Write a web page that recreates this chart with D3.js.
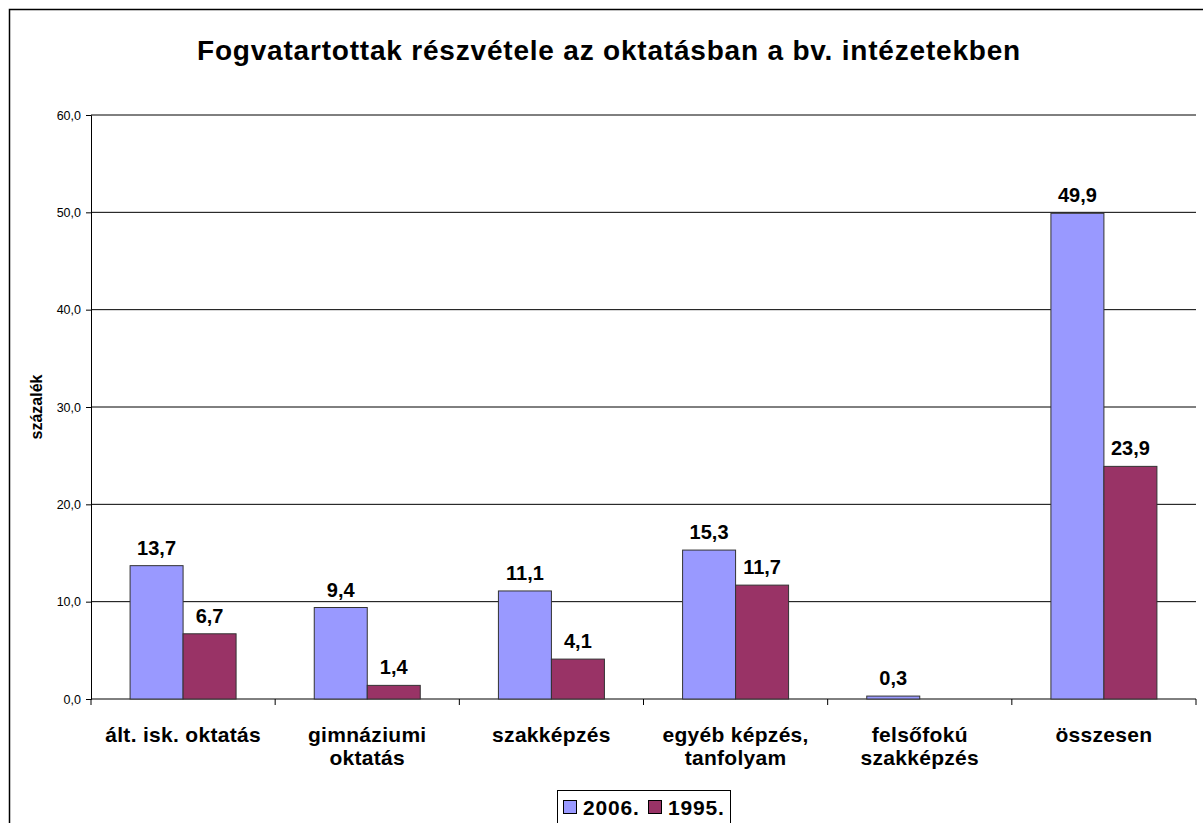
<!DOCTYPE html>
<html><head><meta charset="utf-8">
<script src="https://cdn.jsdelivr.net/npm/d3@7"></script>
<style>body{margin:0;background:#fff}svg{display:block;font-family:"Liberation Sans",Arial,sans-serif}</style>
</head><body>
<svg id="c" width="1203" height="823"></svg>
<script>
const categories = [["ált. isk. oktatás"],["gimnáziumi","oktatás"],["szakképzés"],["egyéb képzés,","tanfolyam"],["felsőfokú","szakképzés"],["összesen"]];
const series2006 = [13.7, 9.4, 11.1, 15.3, 0.3, 49.9];
const series1995 = [6.7, 1.4, 4.1, 11.7, null, 23.9];
const seriesNames = ["2006.", "1995."];
const yTicks = [0, 10, 20, 30, 40, 50, 60];
const colors = ["#9999FF", "#993366"];

const FF = '"Liberation Sans",Arial,sans-serif';
const svg = d3.select("#c");
const L = 91, R = 1196, T = 115, B = 699;
svg.append("rect").attr("x",9.5).attr("y",9.5).attr("width",1203).attr("height",830)
  .attr("fill","none").attr("stroke","#000").attr("stroke-width",1.5);

svg.append("text").attr("x",609).attr("y",60).attr("text-anchor","middle")
  .attr("font-size",28).attr("font-weight","bold").attr("letter-spacing",0.8)
  .text("Fogvatartottak részvétele az oktatásban a bv. intézetekben");

const y = d3.scaleLinear().domain([0,60]).range([B,T]);
const x = d3.scaleBand().domain(d3.range(categories.length)).range([L,R]).paddingInner(0).paddingOuter(0);
const inner = d3.scaleBand().domain([0,1]).range([0, 106]);

svg.append("g").selectAll("line").data(yTicks.filter(d=>d>0)).join("line")
  .attr("x1",L).attr("x2",R).attr("y1",d=>y(d)).attr("y2",d=>y(d))
  .attr("stroke","#000").attr("stroke-width",1);

const yAxis = svg.append("g").attr("transform",`translate(${L},0)`)
  .call(d3.axisLeft(y).tickValues(yTicks).tickSize(5).tickFormat(d=>d3.format(".1f")(d).replace(".",",")));
yAxis.select(".domain").attr("stroke","#000");
yAxis.selectAll("text").attr("font-size",12.5).attr("font-family",FF).attr("fill","#000").attr("dx",-2);

const xAxis = svg.append("g").attr("transform",`translate(0,${B})`);
xAxis.append("line").attr("x1",L).attr("x2",R).attr("stroke","#000");
xAxis.selectAll("line.t").data(d3.range(categories.length+1)).join("line").attr("class","t")
  .attr("x1",i=>L + i*x.bandwidth()).attr("x2",i=>L + i*x.bandwidth()).attr("y1",0).attr("y2",6).attr("stroke","#000");

const labels = svg.append("g").selectAll("text").data(categories).join("text")
  .attr("x",(d,i)=>x(i)+x.bandwidth()/2).attr("y",742).attr("text-anchor","middle")
  .attr("font-size",21).attr("font-weight","bold").attr("letter-spacing",0.3);
labels.each(function(d){
  const t=d3.select(this);
  d.forEach((line,j)=>t.append("tspan").attr("x",t.attr("x")).attr("dy", j===0?0:23).text(line));
});

const allSeries = [series2006, series1995];
allSeries.forEach((vals, s)=>{
  const g = svg.append("g");
  const data = vals.map((v,i)=>({v,i})).filter(d=>d.v!==null);
  const bw = inner.bandwidth();
  const off = (x.bandwidth()-106)/2;
  g.selectAll("rect").data(data).join("rect")
    .attr("x",d=>x(d.i)+off+inner(s)).attr("y",d=>y(d.v)).attr("width",bw).attr("height",d=>B-y(d.v))
    .attr("fill",colors[s]).attr("stroke","#333").attr("stroke-width",1);
  g.selectAll("text").data(data).join("text")
    .attr("x",d=>x(d.i)+off+inner(s)+bw/2).attr("y",d=>y(d.v)-11).attr("text-anchor","middle")
    .attr("font-size",20).attr("font-weight","bold").text(d=>d3.format(".1f")(d.v).replace(".",","));
});

svg.append("text").attr("transform","translate(42,407) rotate(-90)").attr("text-anchor","middle")
  .attr("font-size",16).attr("font-weight","bold").text("százalék");

const lg = svg.append("g");
lg.append("rect").attr("x",557.5).attr("y",790.5).attr("width",173).attr("height",34).attr("fill","#fff").attr("stroke","#000");
seriesNames.forEach((n,i)=>{
  const lx = 563 + i*85;
  lg.append("rect").attr("x",lx+0.5).attr("y",800.5).attr("width",13).attr("height",13).attr("fill",colors[i]).attr("stroke","#000");
  lg.append("text").attr("x",lx+20).attr("y",815).attr("font-size",21).attr("font-weight","bold").attr("letter-spacing",0.8).text(n);
});
</script>
</body></html>
